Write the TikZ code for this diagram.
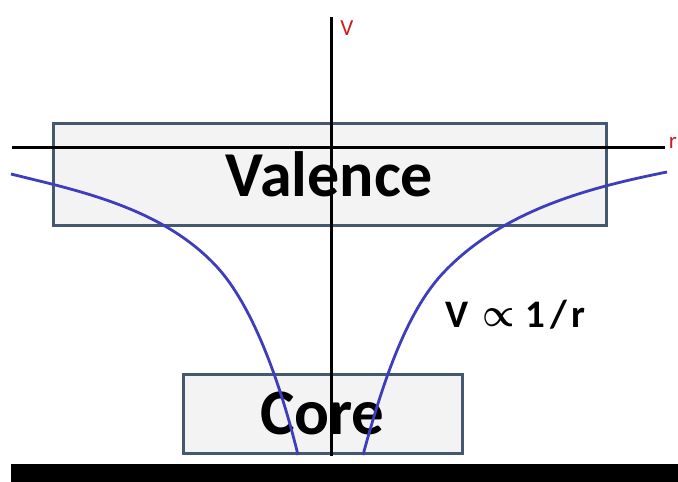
\documentclass[tikz,border=0pt]{standalone}
\usepackage{fontspec}
\setmainfont{Carlito}
\usetikzlibrary{positioning}
\definecolor{boxedge}{RGB}{68,88,112}
\definecolor{boxfill}{RGB}{243,243,243}
\definecolor{curvecolor}{RGB}{62,62,188}
\definecolor{labelcolor}{RGB}{205,30,35}

\begin{document}
\begin{tikzpicture}[
    x=1pt, y=-1pt,
    shell/.style={draw=boxedge, line width=3pt, fill=boxfill, inner sep=0pt, font=\fontsize{64}{64}\selectfont\bfseries},
    axis/.style={line width=3pt, black},
    potential/.style={line width=2.8pt, curvecolor},
    axislabel/.style={font=\fontsize{23}{23}\selectfont, text=labelcolor, inner sep=0pt},
]
    \useasboundingbox (0,0) rectangle (678,482);

    % shells
    \node[shell, minimum width=553pt, minimum height=102pt] (valence) at (329.5,174) {Valence};
    \node[shell, minimum width=279pt, minimum height=79pt, font=\fontsize{65}{65}\selectfont\bfseries] (core) at (322.5,413.5) {Core};

    % axes
    \coordinate (vtop) at (331,17);
    \coordinate (vbot) at (331,456);
    \coordinate (rleft) at (12,147);
    \coordinate (rright) at (665,147);
    \draw[axis] (vtop) -- (vbot);
    \draw[axis] (rleft) -- (rright);
    \node[axislabel] (vlabel) at (347,28) {V};
    \node[axislabel] (rlabel) at (673,143) {r};

    % potential
    \draw[potential] (11,174) .. controls (75,190) and (162,207) .. (217,267)
                               .. controls (252,305) and (280,381) .. (298,455);
    \draw[potential] (667,172) .. controls (592,187) and (505,209) .. (445,271)
                               .. controls (410,307) and (386,370) .. (363,455);
    \node[font=\fontsize{39}{39}\selectfont\bfseries, anchor=base west, inner sep=0pt] (law) at (445,327)
        {V\hskip 14pt\raisebox{1pt}{\scalebox{1.45}[1.6]{\boldmath$\propto$}}\hskip 11pt 1\kern5pt/\kern4pt r};

    % bottom bar
    \fill (11,464) rectangle (678,482);
\end{tikzpicture}
\end{document}
